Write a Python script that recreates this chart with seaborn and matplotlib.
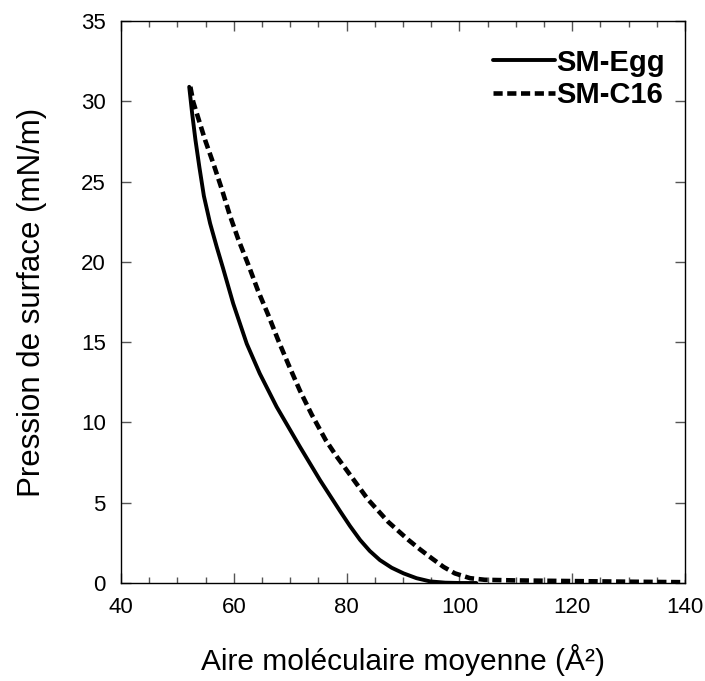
import matplotlib
matplotlib.use("Agg")
import matplotlib.pyplot as plt
import seaborn as sns
import pandas as pd
from matplotlib.ticker import MultipleLocator

# Isotherm data (area in A^2, pressure in mN/m)
egg_area = [52.1, 52.6, 53.2, 53.9, 54.7, 55.8, 57.0, 58.1, 59.9, 62.3, 64.6,
            67.6, 71.7, 75.3, 78.8, 80.6, 82.4, 84.1, 85.9, 88.0, 90.1, 92.4,
            94.8, 97.5, 100.1, 103.0]
egg_pressure = [30.9, 29.3, 27.6, 25.9, 24.1, 22.4, 20.9, 19.6, 17.4, 14.9,
                13.05, 10.97, 8.5, 6.4, 4.5, 3.55, 2.68, 2.0, 1.43, 0.95, 0.6,
                0.3, 0.1, 0.02, 0.0, 0.0]

c16_area = [52.3, 52.8, 54.9, 56.4, 57.9, 59.3, 60.8, 62.6, 64.3, 66.1, 67.9,
            69.7, 71.7, 73.8, 76.3, 78.2, 80.9, 83.8, 87.4, 90.9, 93.0, 95.1,
            97.2, 99.2, 101.9, 104.5, 110.0, 120.0, 130.0, 140.0]
c16_pressure = [30.9, 29.97, 27.6, 26.1, 24.5, 22.9, 21.4, 19.8, 18.2, 16.7,
                15.1, 13.6, 12.0, 10.5, 8.9, 7.9, 6.6, 5.2, 3.8, 2.7, 2.1, 1.54,
                1.0, 0.6, 0.3, 0.2, 0.16, 0.12, 0.08, 0.05]

egg = pd.DataFrame({"area": egg_area, "pressure": egg_pressure})
c16 = pd.DataFrame({"area": c16_area, "pressure": c16_pressure})

sns.set_style("ticks")
plt.rcParams['font.family'] = ['Liberation Sans', 'DejaVu Sans']
plt.rcParams['text.color'] = 'black'
plt.rcParams['axes.labelcolor'] = 'black'

fig = plt.figure(figsize=(7.05, 6.81), dpi=100)
ax = fig.add_axes([0.1716, 0.1439, 0.80, 0.8253])

sns.lineplot(data=egg, x="area", y="pressure", color="black", lw=2.8,
             sort=False, ax=ax, label="SM-Egg")
sns.lineplot(data=c16, x="area", y="pressure", color="black", lw=3.3,
             sort=False, ax=ax, label="SM-C16", linestyle=(0, (2.0, 1.0)))

ax.set_xlim(40, 140)
ax.set_ylim(0, 35)
ax.xaxis.set_major_locator(MultipleLocator(20))
ax.xaxis.set_minor_locator(MultipleLocator(5))
ax.yaxis.set_major_locator(MultipleLocator(5))

for s in ax.spines.values():
    s.set_visible(True)
    s.set_color("black")
    s.set_linewidth(1.0)

ax.tick_params(which="both", direction="in", top=True, right=True,
               color="#555555", labelcolor="black")
ax.tick_params(which="major", length=7, width=1)
ax.tick_params(which="minor", length=4, width=1)
ax.tick_params(axis="x", labelsize=16, pad=10)
ax.tick_params(axis="y", labelsize=16, pad=11)

ax.set_xlabel("Aire moléculaire moyenne (Å²)", fontsize=21.5, labelpad=19)
ax.set_ylabel("Pression de surface (mN/m)", fontsize=22.5, labelpad=24)

leg = ax.legend(loc="upper right", bbox_to_anchor=(0.995, 0.982),
                frameon=False, handlelength=2.1, handletextpad=0.05,
                labelspacing=0.15, borderaxespad=0.2,
                prop={"size": 21, "weight": "bold"})

fig.savefig("out.png", dpi=100)
